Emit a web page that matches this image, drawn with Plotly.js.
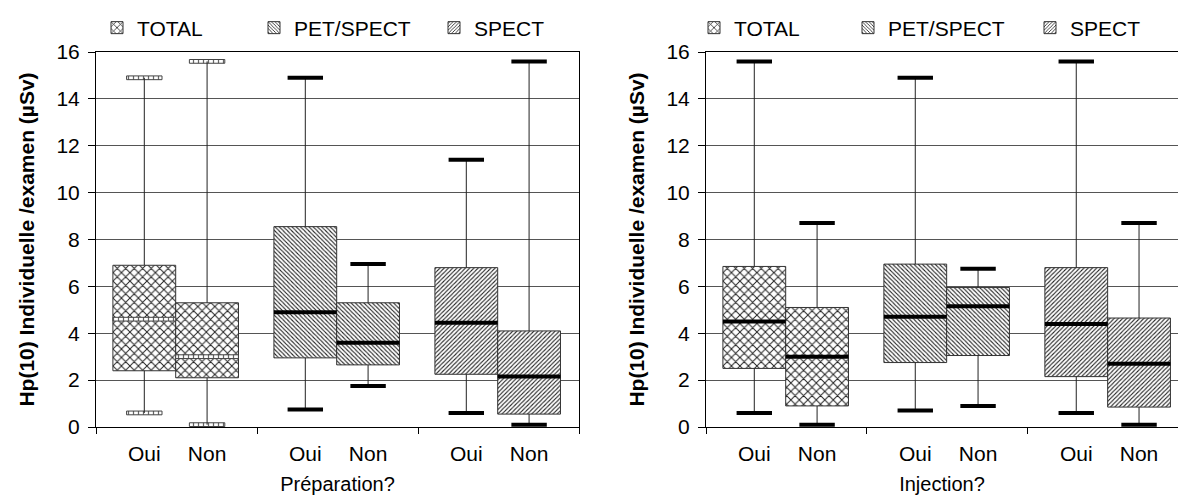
<!DOCTYPE html>
<html>
<head>
<meta charset="utf-8">
<script src="https://cdn.plot.ly/plotly-3.0.1.min.js"></script>
<style>html,body{margin:0;padding:0;background:#fff;}#chart{width:1178px;height:497px;}</style>
</head>
<body>
<div id="chart"></div>
<script>
// Groups (series) and answers (categories)
const groups = ['TOTAL', 'PET/SPECT', 'SPECT'];
const answers = ['Oui', 'Non'];
// Order of values: TOTAL Oui, TOTAL Non, PET/SPECT Oui, PET/SPECT Non, SPECT Oui, SPECT Non
const prepLow  = [0.6, 0.1, 0.75, 1.75, 0.6, 0.1];
const prepQ1   = [2.4, 2.1, 2.95, 2.65, 2.25, 0.55];
const prepMed  = [4.6, 3.0, 4.9, 3.6, 4.45, 2.15];
const prepQ3   = [6.9, 5.3, 8.55, 5.3, 6.8, 4.1];
const prepHigh = [14.9, 15.6, 14.9, 6.95, 11.4, 15.6];

const injLow  = [0.6, 0.1, 0.7, 0.9, 0.6, 0.1];
const injQ1   = [2.5, 0.9, 2.75, 3.05, 2.15, 0.85];
const injMed  = [4.5, 3.0, 4.7, 5.15, 4.4, 2.7];
const injQ3   = [6.85, 5.1, 6.95, 5.95, 6.8, 4.65];
const injHigh = [15.6, 8.7, 14.9, 6.75, 15.6, 8.7];

const xTitles = ['Préparation?', 'Injection?'];
const yTitle = 'Hp(10) Individuelle /examen (µSv)';

// ---- styling ----
const FONT = 'Liberation Sans, Arial, sans-serif';
const BOX_W = 0.39, CAP_W = 0.22, HOLLOW_H = 0.16;
const patterns = [
  {shape: 'x', size: 6, solidity: 0.3},
  {shape: '\\', size: 3, solidity: 0.35},
  {shape: '/', size: 3, solidity: 0.35}
];
function pos(i) { return Math.floor(i / 2) + (i % 2 ? 0.19 : -0.2); }

const traces = [];
function buildPlot(low, q1, med, q3, high, xa, ya, legendIds, hollowTotal) {
  groups.forEach((g, gi) => {
    const idx = [2 * gi, 2 * gi + 1];
    traces.push({
      type: 'bar', name: g, legend: legendIds[gi], xaxis: xa, yaxis: ya,
      x: idx.map(pos), base: idx.map(i => q1[i]), y: idx.map(i => q3[i] - q1[i]),
      width: BOX_W, hoverinfo: 'skip',
      marker: {color: 'white', line: {color: '#333', width: 1},
        pattern: Object.assign({fgcolor: '#222', bgcolor: 'white', fillmode: 'replace'}, patterns[gi])}
    });
  });
  // whiskers
  const wx = [], wy = [];
  for (let i = 0; i < 6; i++) {
    wx.push(pos(i), pos(i), null, pos(i), pos(i), null);
    wy.push(low[i], q1[i], null, q3[i], high[i], null);
  }
  traces.push({type: 'scatter', mode: 'lines', x: wx, y: wy, xaxis: xa, yaxis: ya, showlegend: false,
    hoverinfo: 'skip', line: {color: '#222', width: 1}});
  // caps and medians
  const lx = [], ly = [];
  const hx = [], hb = [], hw = [];
  for (let i = 0; i < 6; i++) {
    const p = pos(i);
    const marks = [[low[i], CAP_W], [high[i], CAP_W], [med[i], BOX_W]];
    marks.forEach(([v, w]) => {
      if (hollowTotal && i < 2) {
        hx.push(p); hb.push(v - HOLLOW_H / 2); hw.push(w);
      } else {
        lx.push(p - w / 2, p + w / 2, null); ly.push(v, v, null);
      }
    });
  }
  if (hx.length) {
    traces.push({type: 'bar', x: hx, base: hb, y: hx.map(() => HOLLOW_H), width: hw,
      xaxis: xa, yaxis: ya, showlegend: false, hoverinfo: 'skip',
      marker: {color: 'white', line: {color: '#444', width: 1},
        pattern: {shape: '|', size: 5, solidity: 0.25, fgcolor: '#666', bgcolor: 'white'}}});
  }
  traces.push({type: 'scatter', mode: 'lines', x: lx, y: ly, xaxis: xa, yaxis: ya, showlegend: false,
    hoverinfo: 'skip', line: {color: 'black', width: 4}});
}
buildPlot(prepLow, prepQ1, prepMed, prepQ3, prepHigh, 'x', 'y', ['legend', 'legend2', 'legend3'], true);
buildPlot(injLow, injQ1, injMed, injQ3, injHigh, 'x2', 'y2', ['legend4', 'legend5', 'legend6'], false);

const W = 1178;
const tickPos = [0, 1, 2, 3, 4, 5].map(pos);
const tickTxt = [0, 1, 2, 3, 4, 5].map(i => answers[i % 2]);
function xAxis(domain, range, title) {
  return {
    domain: domain, range: range, tickmode: 'array', tickvals: tickPos, ticktext: tickTxt,
    ticks: '', ticklabelstandoff: 8, showgrid: false, zeroline: false,
    showline: true, linecolor: 'black', linewidth: 1, mirror: true,
    tickfont: {family: FONT, size: 21, color: 'black'},
    minor: {tickvals: [-0.5, 0.5, 1.5, 2.5], ticks: 'outside', ticklen: 6, tickcolor: 'black', showgrid: false},
    title: {text: title, font: {family: FONT, size: 20, color: 'black'}, standoff: 12},
    fixedrange: true
  };
}
function yAxis(anchor, mirror) {
  return {
    anchor: anchor, domain: [0, 1], range: [0, 16], tickmode: 'array',
    tickvals: [0, 2, 4, 6, 8, 10, 12, 14, 16],
    ticks: 'outside', ticklen: 7, tickcolor: 'black', ticklabelstandoff: 4,
    showline: true, linecolor: 'black', mirror: mirror, zeroline: false,
    showgrid: true, gridcolor: '#555', gridwidth: 1,
    tickfont: {family: FONT, size: 21, color: 'black'},
    title: {text: yTitle, font: {family: FONT, size: 21, color: 'black', weight: 'bold'}, standoff: 16},
    fixedrange: true
  };
}
function legendAt(px) {
  return {x: px / W, xanchor: 'left', y: 1.064, yanchor: 'middle', orientation: 'h',
    bgcolor: 'rgba(0,0,0,0)', borderwidth: 0, itemclick: false, itemdoubleclick: false,
    font: {family: FONT, size: 21, color: 'black'}};
}
const layout = {
  width: W, height: 497, margin: {l: 0, r: 0, t: 52, b: 70},
  paper_bgcolor: 'white', plot_bgcolor: 'white', barmode: 'overlay',
  font: {family: FONT, color: 'black'},
  xaxis: Object.assign(xAxis([96 / W, 579 / W], [-0.5, 2.5], xTitles[0]), {anchor: 'y'}),
  yaxis: yAxis('x', true),
  xaxis2: Object.assign(xAxis([706 / W, 1], [-0.5, 2.432], xTitles[1]), {anchor: 'y2'}),
  yaxis2: yAxis('x2', false),
  legend: legendAt(97), legend2: legendAt(254), legend3: legendAt(434),
  legend4: legendAt(694), legend5: legendAt(848), legend6: legendAt(1030)
};
Plotly.newPlot('chart', traces, layout, {displayModeBar: false, staticPlot: true});
</script>
</body>
</html>
